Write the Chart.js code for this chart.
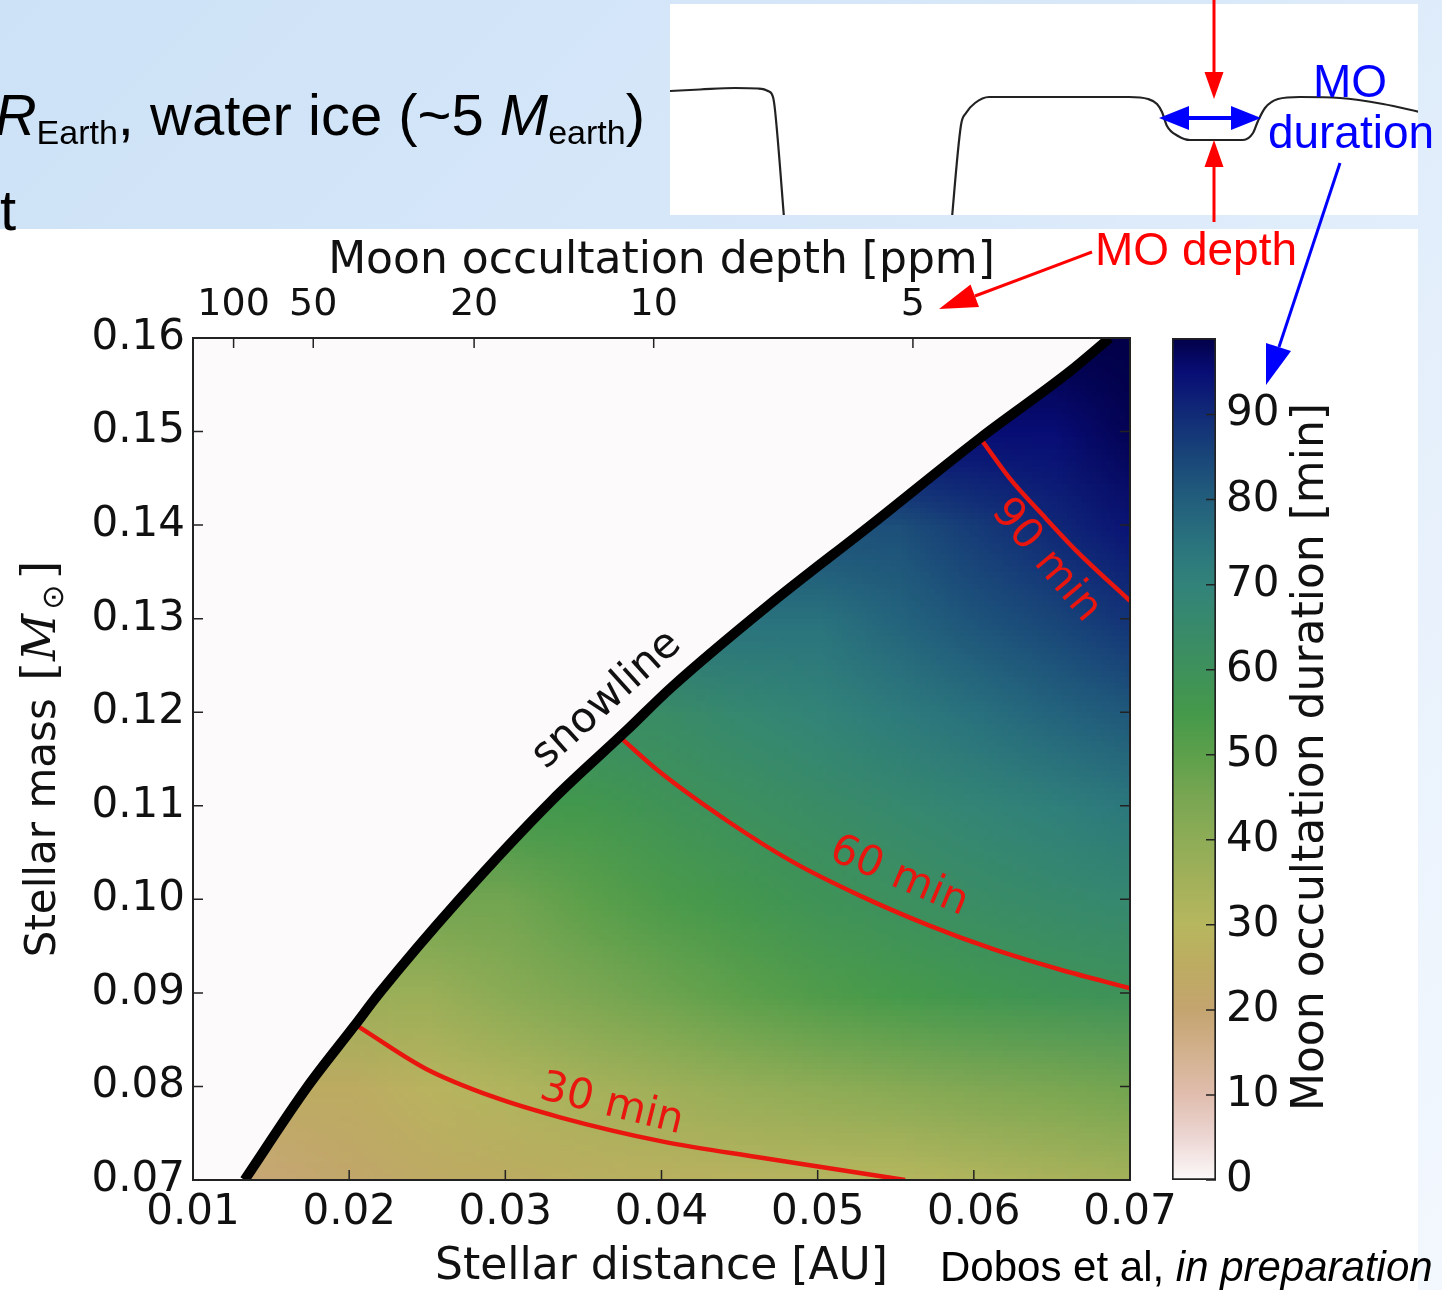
<!DOCTYPE html>
<html>
<head>
<meta charset="utf-8">
<script src="https://cdn.jsdelivr.net/npm/chart.js@4.4.1/dist/chart.umd.min.js"></script>
<style>
html, body { margin: 0; padding: 0; }
body {
    width: 1442px; height: 1290px; overflow: hidden; position: relative;
    background: linear-gradient(135deg, #cde2f7 0%, #d8e8f9 40%, #e9f2fc 75%, #f3f8fe 100%);
}
.panel { position: absolute; background: #fff; }
#mainPanel { left: 0; top: 229px; width: 1418px; height: 1061px; }
#lcPanel { left: 670px; top: 4px; width: 748px; height: 211px; }
.box { position: absolute; }
#mainBox { left: 0; top: 229px; width: 1442px; height: 1065px; }
#cbBox { left: 1100px; top: 229px; width: 342px; height: 1065px; }
#lcBox { left: 670px; top: 4px; width: 748px; height: 211px; }
#notes { position: absolute; left: 0; top: 0; pointer-events: none; }
</style>
</head>
<body>
<div class="panel" id="mainPanel"></div>
<div class="panel" id="lcPanel"></div>
<div class="box" id="mainBox"><canvas id="mainChart"></canvas></div>
<div class="box" id="cbBox"><canvas id="cbChart"></canvas></div>
<div class="box" id="lcBox"><canvas id="lcChart"></canvas></div>

<svg id="notes" width="1442" height="1290" viewBox="0 0 1442 1290">
  <g font-family="'Liberation Sans', Arial, sans-serif" style="white-space:pre">
    <text x="645" y="135" font-size="58" text-anchor="end" fill="#000"><tspan font-style="italic">R</tspan><tspan font-size="34" dy="9">Earth</tspan><tspan dy="-9">, water ice (~5 </tspan><tspan font-style="italic">M</tspan><tspan font-size="34" dy="9">earth</tspan><tspan dy="-9">)</tspan></text>
    <text x="0" y="230" font-size="58" fill="#000">t</text>
    <text x="1350" y="97" font-size="46" fill="#0000ff" text-anchor="middle">MO</text>
    <text x="1351" y="148" font-size="46" fill="#0000ff" text-anchor="middle">duration</text>
    <text x="1196" y="265" font-size="46" fill="#ff0000" text-anchor="middle">MO depth</text>
    <text x="940" y="1281" font-size="42" fill="#000">Dobos et al, <tspan font-style="italic">in preparation</tspan></text>
  </g>
  <g stroke="#ff0000" stroke-width="3" fill="none">
    <line x1="1214" y1="0" x2="1214" y2="74"/>
    <line x1="1214" y1="222" x2="1214" y2="166"/>
    <line x1="1092" y1="252" x2="975" y2="296"/>
  </g>
  <g fill="#ff0000">
    <polygon points="1204.5,72 1223.5,72 1214,99"/>
    <polygon points="1204.5,167 1223.5,167 1214,140"/>
    <polygon points="939,309 979,307 970.5,284.4"/>
  </g>
  <g stroke="#0000ff" fill="none">
    <line x1="1186" y1="118" x2="1234" y2="118" stroke-width="4"/>
    <line x1="1340" y1="163" x2="1279" y2="347" stroke-width="3"/>
  </g>
  <g fill="#0000ff">
    <polygon points="1159,118 1189,106 1189,130"/>
    <polygon points="1261,118 1231,106 1231,130"/>
    <polygon points="1266,385 1291,351 1266,343"/>
  </g>
</svg>

<script>
// axis ticks
var distTicks = [0.01, 0.02, 0.03, 0.04, 0.05, 0.06, 0.07];
var distTickLabels = ['0.01', '0.02', '0.03', '0.04', '0.05', '0.06', '0.07'];
var massTicks = [0.07, 0.08, 0.09, 0.10, 0.11, 0.12, 0.13, 0.14, 0.15, 0.16];
var massTickLabels = ['0.07', '0.08', '0.09', '0.10', '0.11', '0.12', '0.13', '0.14', '0.15', '0.16'];
var depthTicks = ['100', '50', '20', '10', '5'];
var depthTickPos = [0.0126, 0.0177, 0.0280, 0.0395, 0.0561];
var durationTicks = [0, 10, 20, 30, 40, 50, 60, 70, 80, 90];
var durationMax = 99;

// duration grid [min], one row per stellar mass, null = beyond the snowline
var gridDist = [0.010, 0.015, 0.020, 0.025, 0.030, 0.035, 0.040, 0.045, 0.050, 0.055, 0.060, 0.065, 0.070];
var gridMass = [0.07, 0.08, 0.09, 0.10, 0.11, 0.12, 0.13, 0.14, 0.15, 0.16];
var durAt070 = [null, 19, 22, 24, 25.5, 26.5, 27.5, 28.5, 29.3, 30, 31.5, 33, 34.5];
var durAt080 = [null, null, 25, 28.5, 31.5, 34, 36, 38, 39.8, 41.5, 43, 44.5, 46];
var durAt090 = [null, null, null, 37, 41, 44, 47, 50, 52.5, 54.5, 56.5, 58, 59.5];
var durAt100 = [null, null, null, null, 46, 50, 53.5, 56, 58.8, 61, 63, 65, 66.5];
var durAt110 = [null, null, null, null, null, 55.5, 58.5, 61, 63.5, 66, 68.5, 71, 73.5];
var durAt120 = [null, null, null, null, null, null, 63.5, 66.5, 69.5, 72.5, 75.5, 78.5, 81];
var durAt130 = [null, null, null, null, null, null, null, null, 75, 78.5, 82, 85, 88.5];
var durAt140 = [null, null, null, null, null, null, null, null, null, 83, 87, 90.5, 94];
var durAt150 = [null, null, null, null, null, null, null, null, null, null, null, 95, 98];
var durAt160 = [null, null, null, null, null, null, null, null, null, null, null, null, 100];
var durationGrid = [durAt070, durAt080, durAt090, durAt100, durAt110, durAt120, durAt130, durAt140, durAt150, durAt160];

// snowline
var snowDist = [0.0133, 0.0173, 0.0203, 0.0220, 0.0270, 0.0330, 0.0378, 0.0406, 0.0469, 0.0534, 0.0604, 0.0662, 0.0687];
var snowMass = [0.0700, 0.0799, 0.0864, 0.0901, 0.0999, 0.1106, 0.1181, 0.1226, 0.1315, 0.1400, 0.1493, 0.1565, 0.1600];

// contours of duration
var c30Dist = [0.0206, 0.0249, 0.0292, 0.0335, 0.0401, 0.0463, 0.0556];
var c30Mass = [0.0864, 0.0819, 0.0789, 0.0767, 0.0741, 0.0724, 0.0700];
var c60Dist = [0.0375, 0.0399, 0.0442, 0.0484, 0.0527, 0.0570, 0.0612, 0.0655, 0.0700];
var c60Mass = [0.1171, 0.1136, 0.1084, 0.1040, 0.1004, 0.0973, 0.0947, 0.0925, 0.0905];
var c90Dist = [0.0605, 0.0623, 0.0644, 0.0666, 0.0700];
var c90Mass = [0.1491, 0.1450, 0.1411, 0.1372, 0.1319];

// light curve sketch (time [h], relative flux)
var lcTime = [0.00, 0.30, 0.65, 0.88, 0.98, 1.03, 1.05, 1.15, 1.16, 2.80, 2.91, 2.96, 3.05, 3.19,
    4.59, 4.78, 4.87, 4.92, 4.97, 5.08, 5.20, 5.73, 5.83, 5.88, 5.95, 6.08, 6.30, 6.70, 7.13, 7.50];
var lcFlux = [6, 7.5, 9, 8.5, 6, 0, -13, -133, null, -143, -28, -16, -6, 0,
    0, -2, -7, -15, -29, -39, -43, -43, -36, -24, -11, -2, 0, -1, -7, -15];

// colour map (styling)
var cmapVals = [0, 5, 10, 15, 20, 25, 30, 35, 40, 45, 50, 55, 60, 65, 70, 75, 80, 85, 90, 95, 99];
var cmapColors = ['#fcfafa', '#ecd6d3', '#e0bdae', '#d2b18e', '#c4a46f', '#bdab62', '#b7b75e', '#a3b15a',
    '#8eac56', '#79a652', '#5da04b', '#44994b', '#3e915b', '#388a6b', '#32837a', '#2a737e', '#225e7c',
    '#194679', '#112b77', '#080d75', '#020048'];

var RED = '#e8160f';

function hexRgb(h) {
    return [parseInt(h.substr(1, 2), 16), parseInt(h.substr(3, 2), 16), parseInt(h.substr(5, 2), 16)];
}

function colorFor(v) {
    if (v <= cmapVals[0]) return hexRgb(cmapColors[0]);
    for (var i = 1; i < cmapVals.length; i++) {
        if (v <= cmapVals[i]) {
            var t = (v - cmapVals[i - 1]) / (cmapVals[i] - cmapVals[i - 1]);
            var a = hexRgb(cmapColors[i - 1]), b = hexRgb(cmapColors[i]);
            return [a[0] + (b[0] - a[0]) * t, a[1] + (b[1] - a[1]) * t, a[2] + (b[2] - a[2]) * t];
        }
    }
    return hexRgb(cmapColors[cmapColors.length - 1]);
}

function buildHeatImage() {
    var nx = gridDist.length, ny = gridMass.length;
    var c = document.createElement('canvas');
    c.width = nx; c.height = ny;
    var g = c.getContext('2d');
    var img = g.createImageData(nx, ny);
    for (var j = 0; j < ny; j++) {
        var row = durationGrid[j].slice();
        for (var i = nx - 2; i >= 0; i--) if (row[i] === null) row[i] = row[i + 1];
        var py = ny - 1 - j;
        for (var k = 0; k < nx; k++) {
            var col = colorFor(row[k]);
            var o = (py * nx + k) * 4;
            img.data[o] = col[0]; img.data[o + 1] = col[1]; img.data[o + 2] = col[2]; img.data[o + 3] = 255;
        }
    }
    g.putImageData(img, 0, 0);
    return c;
}

function pts(xs, ys) {
    return xs.map(function (x, i) { return { x: x, y: ys[i] }; });
}

function drawRotated(ctx, text, x, y, deg, font, color) {
    ctx.save();
    ctx.translate(x, y);
    ctx.rotate(deg * Math.PI / 180);
    ctx.font = font;
    ctx.fillStyle = color;
    ctx.textAlign = 'center';
    ctx.textBaseline = 'middle';
    ctx.fillText(text, 0, 0);
    ctx.restore();
}

document.addEventListener("DOMContentLoaded", function () {
    Chart.defaults.font.family = '"DejaVu Sans", sans-serif';
    Chart.defaults.color = '#111';

    var heatImage = buildHeatImage();

    var contourLabels = [
        { text: '30 min', at: [0.0368, 0.0780], rot: 14, color: RED },
        { text: '60 min', at: [0.0552, 0.1024], rot: 23, color: RED },
        { text: '90 min', at: [0.0646, 0.1362], rot: 50, color: RED },
        { text: 'snowline', at: [0.0365, 0.1213], rot: -42, color: '#111' }
    ];

    var heatmapPlugin = {
        id: 'heatmap',
        beforeDatasetsDraw: function (chart) {
            var ctx = chart.ctx, area = chart.chartArea;
            var xs = chart.scales.x, ys = chart.scales.y;
            ctx.save();
            ctx.fillStyle = '#fcfafa';
            ctx.fillRect(area.left, area.top, area.width, area.height);
            ctx.beginPath();
            ctx.rect(area.left, area.top, area.width, area.height);
            ctx.clip();
            ctx.beginPath();
            snowDist.forEach(function (a, i) {
                var px = xs.getPixelForValue(a), py = ys.getPixelForValue(snowMass[i]);
                if (i === 0) ctx.moveTo(px, py); else ctx.lineTo(px, py);
            });
            ctx.lineTo(area.right + 20, area.top - 20);
            ctx.lineTo(area.right + 20, area.bottom + 20);
            ctx.lineTo(xs.getPixelForValue(snowDist[0]), area.bottom + 20);
            ctx.closePath();
            ctx.clip();
            var hx = (gridDist[1] - gridDist[0]) / 2, hy = (gridMass[1] - gridMass[0]) / 2;
            var x0 = xs.getPixelForValue(gridDist[0] - hx);
            var x1 = xs.getPixelForValue(gridDist[gridDist.length - 1] + hx);
            var y0 = ys.getPixelForValue(gridMass[gridMass.length - 1] + hy);
            var y1 = ys.getPixelForValue(gridMass[0] - hy);
            ctx.imageSmoothingEnabled = true;
            ctx.drawImage(heatImage, x0, y0, x1 - x0, y1 - y0);
            ctx.restore();
        },
        afterDatasetsDraw: function (chart) {
            var ctx = chart.ctx, area = chart.chartArea;
            var xs = chart.scales.x, x2 = chart.scales.x2, ys = chart.scales.y;
            contourLabels.forEach(function (l) {
                drawRotated(ctx, l.text, xs.getPixelForValue(l.at[0]), ys.getPixelForValue(l.at[1]),
                    l.rot, '42px "DejaVu Sans"', l.color);
            });
            ctx.save();
            ctx.strokeStyle = '#222';
            ctx.lineWidth = 1.5;
            ctx.beginPath();
            distTicks.forEach(function (v) {
                var p = xs.getPixelForValue(v);
                ctx.moveTo(p, area.bottom); ctx.lineTo(p, area.bottom - 10);
            });
            depthTickPos.forEach(function (v) {
                var p = x2.getPixelForValue(v);
                ctx.moveTo(p, area.top); ctx.lineTo(p, area.top + 10);
            });
            massTicks.forEach(function (v) {
                var p = ys.getPixelForValue(v);
                ctx.moveTo(area.left, p); ctx.lineTo(area.left + 10, p);
                ctx.moveTo(area.right, p); ctx.lineTo(area.right - 10, p);
            });
            ctx.stroke();
            ctx.lineWidth = 2;
            ctx.strokeRect(area.left, area.top, area.width, area.height);
            ctx.restore();

            // y axis title with solar mass symbol
            var parts = [
                { t: 'Stellar mass ', f: '42px "DejaVu Sans"', dy: 0, gap: 4 },
                { t: '[', f: '46px "DejaVu Serif"', dy: 0, gap: 2 },
                { t: 'M', f: 'italic 46px "DejaVu Serif"', dy: 0, gap: 4 },
                { t: '\u2299', f: '30px "DejaVu Sans"', dy: 8, gap: 6 },
                { t: ']', f: '46px "DejaVu Serif"', dy: 0, gap: 0 }
            ];
            ctx.save();
            ctx.fillStyle = '#111';
            var total = 0;
            parts.forEach(function (p) { ctx.font = p.f; total += ctx.measureText(p.t).width + p.gap; });
            ctx.translate(40, (area.top + area.bottom) / 2);
            ctx.rotate(-Math.PI / 2);
            ctx.textBaseline = 'alphabetic';
            var x = -total / 2;
            parts.forEach(function (p) {
                ctx.font = p.f;
                ctx.fillText(p.t, x, 15 + p.dy);
                x += ctx.measureText(p.t).width + p.gap;
            });
            ctx.restore();
        }
    };

    var lineStyle = { showLine: true, pointRadius: 0, cubicInterpolationMode: 'monotone' };

    var ctx = document.getElementById("mainChart").getContext("2d");
    var mainChart = new Chart(ctx, {
        type: 'scatter',
        data: {
            datasets: [
                Object.assign({ label: 'snowline', data: pts(snowDist, snowMass), borderColor: '#000', borderWidth: 10 }, lineStyle),
                Object.assign({ label: '30 min', data: pts(c30Dist, c30Mass), borderColor: RED, borderWidth: 4.5 }, lineStyle),
                Object.assign({ label: '60 min', data: pts(c60Dist, c60Mass), borderColor: RED, borderWidth: 4.5 }, lineStyle),
                Object.assign({ label: '90 min', data: pts(c90Dist, c90Mass), borderColor: RED, borderWidth: 4.5 }, lineStyle)
            ]
        },
        options: {
            responsive: true,
            maintainAspectRatio: false,
            devicePixelRatio: 1,
            animation: false,
            events: [],
            layout: { padding: { left: 0, top: 0, bottom: 0, right: 312 } },
            plugins: { legend: { display: false }, tooltip: { enabled: false } },
            scales: {
                x: {
                    type: 'linear', position: 'bottom', min: 0.01, max: 0.07,
                    afterBuildTicks: function (s) { s.ticks = distTicks.map(function (v) { return { value: v }; }); },
                    afterFit: function (s) { s.height = 114; },
                    ticks: { callback: function (v, i) { return distTickLabels[i]; }, padding: 8, maxRotation: 0, autoSkip: false, font: { size: 42 } },
                    grid: { display: false, drawTicks: false },
                    border: { display: false },
                    title: { display: true, text: 'Stellar distance [AU]', font: { size: 44 }, padding: { top: 0, bottom: 0 } }
                },
                x2: {
                    type: 'linear', axis: 'x', position: 'top', min: 0.01, max: 0.07,
                    afterBuildTicks: function (s) { s.ticks = depthTickPos.map(function (v) { return { value: v }; }); },
                    afterFit: function (s) { s.height = 109; },
                    ticks: { callback: function (v, i) { return depthTicks[i]; }, padding: 10, maxRotation: 0, autoSkip: false, font: { size: 38 } },
                    grid: { display: false, drawTicks: false },
                    border: { display: false },
                    title: { display: true, text: 'Moon occultation depth [ppm]', font: { size: 44 }, padding: { top: 6, bottom: 0 } }
                },
                y: {
                    type: 'linear', min: 0.07, max: 0.16,
                    afterBuildTicks: function (s) { s.ticks = massTicks.map(function (v) { return { value: v }; }); },
                    afterFit: function (s) { s.width = 193; },
                    ticks: { callback: function (v, i) { return massTickLabels[i]; }, padding: 8, autoSkip: false, font: { size: 42 } },
                    grid: { display: false, drawTicks: false },
                    border: { display: false }
                }
            }
        },
        plugins: [heatmapPlugin]
    });

    var cbPlugin = {
        id: 'cbExtras',
        afterDatasetsDraw: function (chart) {
            var c = chart.ctx, area = chart.chartArea, ys = chart.scales.y;
            c.save();
            c.strokeStyle = '#222';
            c.lineWidth = 1.5;
            c.beginPath();
            durationTicks.forEach(function (v) {
                var p = ys.getPixelForValue(v);
                c.moveTo(area.right, p); c.lineTo(area.right - 10, p);
            });
            c.stroke();
            c.restore();
            drawRotated(c, 'Moon occultation duration [min]', 212, (area.top + area.bottom) / 2 - 2, -90, '44px "DejaVu Sans"', '#111');
        }
    };

    var cbChart = new Chart(document.getElementById("cbChart").getContext("2d"), {
        type: 'bar',
        data: {
            labels: ['duration'],
            datasets: [{
                data: [[0, durationMax]],
                backgroundColor: function (c) {
                    var chart = c.chart, ys = chart.scales.y;
                    if (!chart.chartArea || !ys) return '#888';
                    var g = chart.ctx.createLinearGradient(0, ys.getPixelForValue(0), 0, ys.getPixelForValue(durationMax));
                    cmapVals.forEach(function (v, i) { g.addColorStop(Math.min(v / durationMax, 1), cmapColors[i]); });
                    return g;
                },
                borderColor: '#222',
                borderWidth: 2,
                borderSkipped: false,
                barPercentage: 1,
                categoryPercentage: 1
            }]
        },
        options: {
            responsive: true,
            maintainAspectRatio: false,
            devicePixelRatio: 1,
            animation: false,
            events: [],
            layout: { padding: { left: 72, top: 109, bottom: 114, right: 0 } },
            plugins: { legend: { display: false }, tooltip: { enabled: false } },
            scales: {
                x: { display: false },
                y: {
                    position: 'right', min: 0, max: durationMax,
                    afterBuildTicks: function (s) { s.ticks = durationTicks.map(function (v) { return { value: v }; }); },
                    afterFit: function (s) { s.width = 226; },
                    ticks: { padding: 10, font: { size: 42 }, autoSkip: false },
                    grid: { display: false, drawTicks: false },
                    border: { display: false }
                }
            }
        },
        plugins: [cbPlugin]
    });

    var lcChart = new Chart(document.getElementById("lcChart").getContext("2d"), {
        type: 'line',
        data: {
            datasets: [{
                data: pts(lcTime, lcFlux),
                borderColor: '#222',
                borderWidth: 2.2,
                pointRadius: 0,
                spanGaps: false,
                cubicInterpolationMode: 'monotone'
            }]
        },
        options: {
            responsive: true,
            maintainAspectRatio: false,
            devicePixelRatio: 1,
            animation: false,
            events: [],
            layout: { padding: 0 },
            plugins: { legend: { display: false }, tooltip: { enabled: false } },
            scales: {
                x: { type: 'linear', display: false, min: 0, max: 7.48 },
                y: { display: false, min: -118, max: 93 }
            }
        }
    });
});
</script>
</body>
</html>
